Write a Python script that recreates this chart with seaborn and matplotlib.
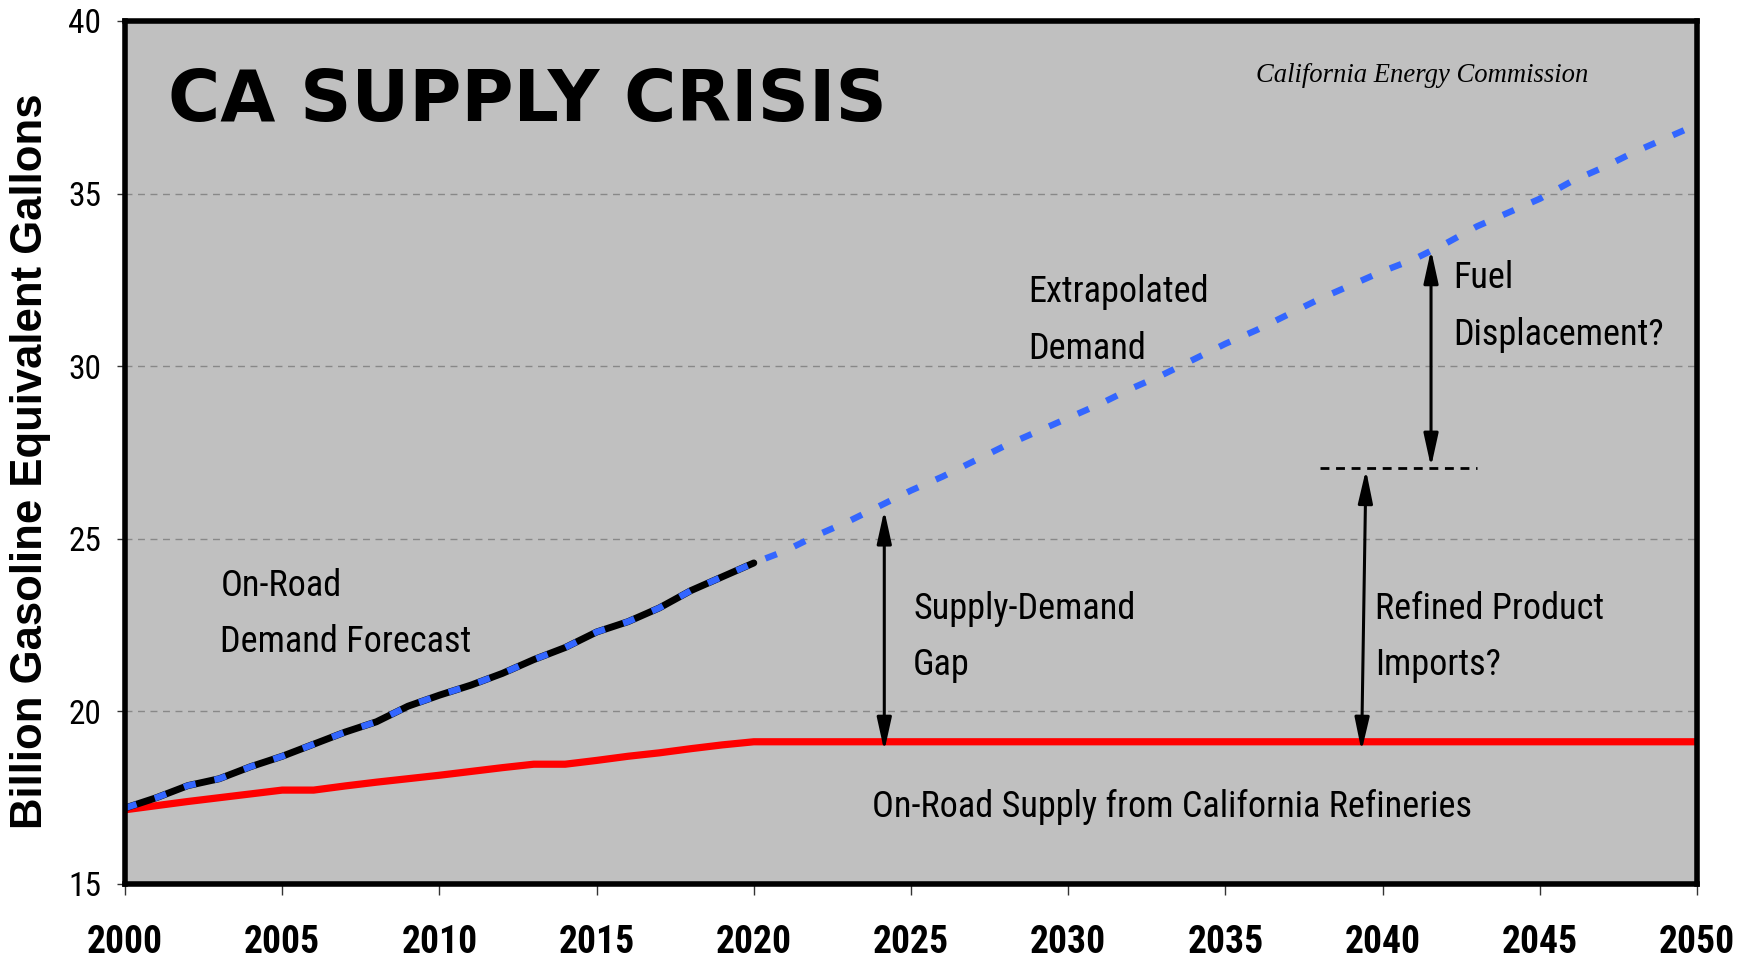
import os
import matplotlib
matplotlib.use("Agg")
import matplotlib.pyplot as plt
from matplotlib import font_manager
from matplotlib.font_manager import FontProperties
import seaborn as sns
import pandas as pd

# ---------------- data ----------------
forecast_years = list(range(2000, 2021))
demand_forecast = [17.2, 17.5, 17.85, 18.05, 18.4, 18.7, 19.05, 19.4, 19.7, 20.15,
                   20.47, 20.76, 21.1, 21.5, 21.85, 22.3, 22.6, 23.0, 23.5, 23.9, 24.3]

extrap_years = list(range(2021, 2051))
demand_extrapolated = [24.65, 25.1, 25.5, 25.95, 26.4, 26.8, 27.25, 27.7, 28.1, 28.5,
                       28.9, 29.35, 29.75, 30.2, 30.65, 31.05, 31.5, 31.95, 32.35, 32.75,
                       33.1, 33.55, 34.05, 34.45, 34.85, 35.35, 35.75, 36.2, 36.6, 37.0]

supply_years = list(range(2000, 2021)) + [2050]
supply = [17.15, 17.27, 17.39, 17.5, 17.61, 17.72, 17.72, 17.84, 17.95, 18.05,
          18.15, 18.26, 18.37, 18.47, 18.47, 18.58, 18.7, 18.8, 18.92, 19.03, 19.12, 19.12]

x_ticks = list(range(2000, 2051, 5))
y_ticks = [15, 20, 25, 30, 35, 40]

# ---------------- style ----------------
sns.set_style("ticks")
plt.rcParams["font.family"] = ["Liberation Sans", "DejaVu Sans"]
for k in ["text.color", "axes.labelcolor", "xtick.color", "ytick.color"]:
    plt.rcParams[k] = "black"


def _is_bold(f):
    w = f.weight
    if isinstance(w, str):
        return w in ("bold", "heavy", "black", "demibold", "semibold", "extra bold")
    return w >= 600


def find_narrow(bold):
    best = None
    for f in font_manager.fontManager.ttflist:
        base = os.path.basename(f.fname)
        tag = f.name + " " + base
        if not ("Narrow" in tag or "Condensed" in tag):
            continue
        if "Mono" in tag or "Serif" in tag or f.style != "normal":
            continue
        if _is_bold(f) != bold:
            continue
        if "Liberation Sans Narrow" in f.name:
            score = 0
        elif "Roboto" in tag:
            score = 1
        elif "Open Sans" in tag:
            score = 2
        elif "DejaVu" in tag:
            score = 4
        else:
            score = 3
        if "Light" in tag or "Thin" in tag or "Medium" in tag or "Extra" in tag:
            score += 5
        if best is None or score < best[0]:
            best = (score, f.fname)
    return best[1] if best else None


reg_path = find_narrow(False)
bold_path = find_narrow(True)
fp_reg = FontProperties(fname=reg_path) if reg_path else FontProperties(family="Liberation Sans")
fp_bold = (FontProperties(fname=bold_path) if bold_path
           else FontProperties(family="Liberation Sans", weight="bold"))

fig = plt.figure(figsize=(17.53, 9.63), dpi=100)
ax = fig.add_axes([0.07131, 0.08204, 0.89675, 0.89616])
ax.set_facecolor("#C0C0C0")
renderer = fig.canvas.get_renderer()

df_forecast = pd.DataFrame({"year": forecast_years, "value": demand_forecast})
df_demand = pd.DataFrame({"year": forecast_years + extrap_years,
                          "value": demand_forecast + demand_extrapolated})
df_supply = pd.DataFrame({"year": supply_years, "value": supply})

sns.lineplot(data=df_supply, x="year", y="value", color="#FF0000", lw=5.2,
             estimator=None, ax=ax)
sns.lineplot(data=df_forecast, x="year", y="value", color="black", lw=5.0,
             estimator=None, ax=ax)
sns.lineplot(data=df_demand, x="year", y="value", color="#3366FF", lw=4.6,
             estimator=None, ax=ax)
ax.lines[-1].set_dashes((1.9, 3.0))
ax.lines[-1].set_dash_capstyle("butt")

ax.set_xlim(2000, 2050)
ax.set_ylim(15, 40)
ax.set_xticks(x_ticks)
ax.set_yticks(y_ticks)
ax.set_xticklabels([str(t) for t in x_ticks])
ax.set_yticklabels([str(t) for t in y_ticks])
ax.tick_params(axis="x", length=8, width=1, pad=21, color="#333333")
ax.tick_params(axis="y", length=6, width=1, pad=11, color="#333333")

ax.grid(axis="y", color="#888888", linestyle=(0, (5, 4)), lw=1.0)
ax.grid(axis="x", visible=False)
for s in ax.spines.values():
    s.set_linewidth(4.0)
    s.set_color("black")
    s.set_visible(True)


def width_px(t):
    return t.get_window_extent(renderer).width


def fitted_size(fp, s, nominal, target_w, mix=1.0):
    """font size whose rendered width of s matches target_w, blended with nominal"""
    probe = fig.text(0, 0, s, fontproperties=fp, fontsize=nominal)
    w = width_px(probe)
    probe.remove()
    fit = nominal * target_w / w
    return fit ** mix * nominal ** (1 - mix)


# tick label fonts
xs = fitted_size(fp_bold, "2000", 30, 69, mix=0.5)
ys = 24
for lab in ax.get_xticklabels():
    lab.set_fontproperties(fp_bold)
    lab.set_fontsize(xs)
for lab in ax.get_yticklabels():
    lab.set_fontproperties(fp_reg)
    lab.set_fontsize(ys)

ax.set_xlabel("")
fp_ylab = FontProperties(family="Liberation Sans", weight="bold")
ax.set_ylabel("Billion Gasoline Equivalent Gallons", fontproperties=fp_ylab)
ax.yaxis.label.set_fontsize(
    fitted_size(fp_ylab, "Billion Gasoline Equivalent Gallons", 31, 732))
ax.yaxis.set_label_coords(-0.0604, 0.49)
ax.yaxis.label.set_verticalalignment("center")

# ---------------- texts ----------------
fp_title = FontProperties(family="DejaVu Sans", weight="bold")
ax.text(2001.37, 37.10, "CA SUPPLY CRISIS", fontproperties=fp_title,
        fontsize=fitted_size(fp_title, "CA SUPPLY CRISIS", 50, 721),
        va="baseline", ha="left", color="black")
fp_cec = FontProperties(family=["Liberation Serif", "DejaVu Serif"], style="italic")
ax.text(2035.97, 38.24, "California Energy Commission", fontproperties=fp_cec,
        fontsize=fitted_size(fp_cec, "California Energy Commission", 20, 331),
        va="baseline", ha="left", color="black")

fs = fitted_size(fp_reg, "On-Road Supply from California Refineries", 28, 600)
notes = [
    (2003.03, 23.34, "On-Road"),
    (2003.03, 21.73, "Demand Forecast"),
    (2028.74, 31.87, "Extrapolated"),
    (2028.74, 30.20, "Demand"),
    (2025.07, 22.68, "Supply-Demand"),
    (2025.07, 21.05, "Gap"),
    (2039.76, 22.68, "Refined Product"),
    (2039.76, 21.05, "Imports?"),
    (2042.25, 32.26, "Fuel"),
    (2042.25, 30.61, "Displacement?"),
    (2023.76, 16.95, "On-Road Supply from California Refineries"),
]
for x, y, s in notes:
    ax.text(x, y, s, fontproperties=fp_reg, fontsize=fs, va="baseline", ha="left",
            color="black")

# ---------------- arrows ----------------
arrow_kw = dict(arrowstyle="<|-|>,head_length=1.0,head_width=0.22", lw=2.2,
                color="black", shrinkA=0, shrinkB=0, mutation_scale=20)
ax.annotate("", xy=(2024.15, 25.83), xytext=(2024.15, 18.85), arrowprops=arrow_kw)
ax.annotate("", xy=(2039.47, 27.0), xytext=(2039.33, 18.85), arrowprops=arrow_kw)
ax.annotate("", xy=(2041.54, 33.37), xytext=(2041.54, 27.08), arrowprops=arrow_kw)
ax.plot([2038.0, 2043.0], [27.05, 27.05], color="black", lw=2.0, dashes=(3.2, 2.4))

fig.savefig("out.png", dpi=100)
